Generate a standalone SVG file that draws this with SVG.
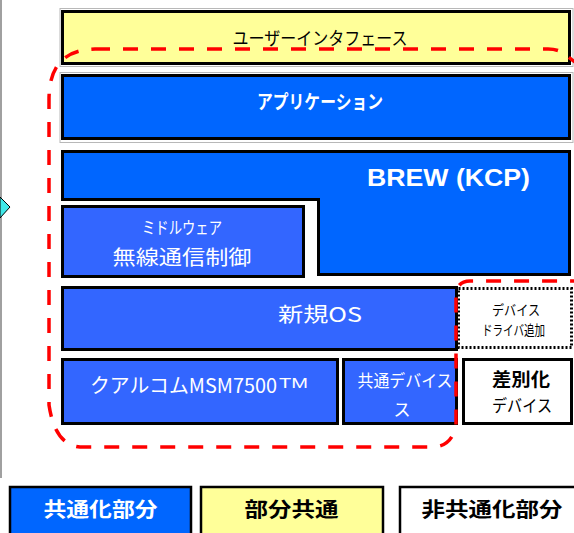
<svg xmlns="http://www.w3.org/2000/svg" width="574" height="533" viewBox="0 0 574 533">
<style>
.bx{stroke:#000;stroke-width:3}
.halo{fill:none;stroke:#b8b8b8;stroke-width:1}
.blue1{fill:#0066FF}
.blue2{fill:#3366FF}
.yel{fill:#FFFF99}
.wht{fill:#FFFFFF}
text{font-family:"Noto Sans CJK JP","Noto Sans",sans-serif;text-anchor:middle}
.tw{fill:#FFFFFF}
.tb{fill:#000000}
.bold{font-weight:bold}
.lat{font-family:"Liberation Sans","DejaVu Sans",sans-serif}
.red{fill:none;stroke:#FF0000;stroke-width:3.5;stroke-dasharray:15 13}
.lg{stroke:#000;stroke-width:2.5}
</style>

<g id="frame">
<line x1="1" y1="0" x2="1" y2="478" stroke="#a0a0a0" stroke-width="2"/>
<polygon points="0,197 10,207 0,218" fill="#40E8E8" stroke="#000" stroke-width="1"/>
</g>

<g id="user-interface">
<rect class="halo" x="60" y="8.5" width="513" height="58"/>
<rect class="bx yel" x="62.5" y="11.5" width="507" height="52"/>
<text class="tb" x="320" y="45" font-size="18" textLength="175" lengthAdjust="spacingAndGlyphs">ユーザーインタフェース</text>
</g>

<g id="application">
<rect class="halo" x="60" y="72.5" width="513" height="70"/>
<rect class="bx blue1" x="62.5" y="75.5" width="507" height="63"/>
<text class="tw bold" x="320" y="109" font-size="19" textLength="126" lengthAdjust="spacingAndGlyphs">アプリケーション</text>
</g>

<g id="brew">
<polygon class="bx blue1" points="62.5,151.5 569.5,151.5 569.5,274.5 318.5,274.5 318.5,199.5 62.5,199.5"/>
<text class="tw bold lat" x="448.5" y="186" font-size="23" textLength="163" lengthAdjust="spacingAndGlyphs">BREW (KCP)</text>
</g>

<g id="middleware">
<rect class="bx blue2" x="62.5" y="206.5" width="241" height="70"/>
<text class="tw" x="182" y="234" font-size="17" textLength="80" lengthAdjust="spacingAndGlyphs">ミドルウェア</text>
<text class="tw" x="182" y="265" font-size="20" textLength="139" lengthAdjust="spacingAndGlyphs">無線通信制御</text>
</g>

<g id="new-os">
<rect class="bx blue2" x="62.5" y="287.5" width="394" height="62"/>
<text class="tw" x="320" y="322" font-size="20" textLength="84" lengthAdjust="spacingAndGlyphs">新規OS</text>
</g>

<g id="device-driver">
<rect x="458.5" y="288.5" width="113" height="59" fill="#FFFFFF" stroke="#000" stroke-width="3" stroke-dasharray="2 2"/>
<text class="tb" x="516" y="315" font-size="14" textLength="48" lengthAdjust="spacingAndGlyphs">デバイス</text>
<text class="tb" x="513.5" y="335" font-size="14" textLength="63" lengthAdjust="spacingAndGlyphs">ドライバ追加</text>
</g>

<g id="qualcomm">
<rect class="bx blue2" x="62.5" y="359.5" width="275" height="64"/>
<text class="tw" x="90" y="393" font-size="20" textLength="187" lengthAdjust="spacingAndGlyphs" style="text-anchor:start">クアルコムMSM7500</text>
<text class="tw lat" x="279" y="388" font-size="14" textLength="29" lengthAdjust="spacingAndGlyphs" style="text-anchor:start">TM</text>
</g>

<g id="common-device">
<rect class="bx blue2" x="343.5" y="359.5" width="113" height="64"/>
<text class="tw" x="405" y="387" font-size="17" textLength="95" lengthAdjust="spacingAndGlyphs">共通デバイス</text>
<text class="tw" x="402" y="416" font-size="17">ス</text>
</g>

<g id="diff-device">
<rect class="bx wht" x="463.5" y="359.5" width="108" height="64"/>
<text class="tb bold" x="521" y="386" font-size="18" textLength="58" lengthAdjust="spacingAndGlyphs">差別化</text>
<text class="tb" x="522" y="412" font-size="17" textLength="60" lengthAdjust="spacingAndGlyphs">デバイス</text>
</g>

<g id="connectors">
<path class="red" d="M95,49 H548 Q560,49 567,56 L580,66 V281 H470 Q458,281 456,293 V425 Q452,447 432,447 H80 Q55,445 49,405 V100 C49,70 60,50 95,49 Z"/>
</g>

<g id="legend-common">
<rect class="lg blue1" x="10" y="487" width="181" height="52"/>
<text class="tw bold" x="100.5" y="517" font-size="20" textLength="114" lengthAdjust="spacingAndGlyphs">共通化部分</text>
</g>
<g id="legend-partial">
<rect class="lg yel" x="201" y="487" width="182" height="52"/>
<text class="tb bold" x="291.5" y="517" font-size="20" textLength="94" lengthAdjust="spacingAndGlyphs">部分共通</text>
</g>
<g id="legend-noncommon">
<rect class="lg wht" x="400" y="487" width="180" height="52"/>
<text class="tb bold" x="492" y="517" font-size="20" textLength="141" lengthAdjust="spacingAndGlyphs">非共通化部分</text>
</g>
</svg>
